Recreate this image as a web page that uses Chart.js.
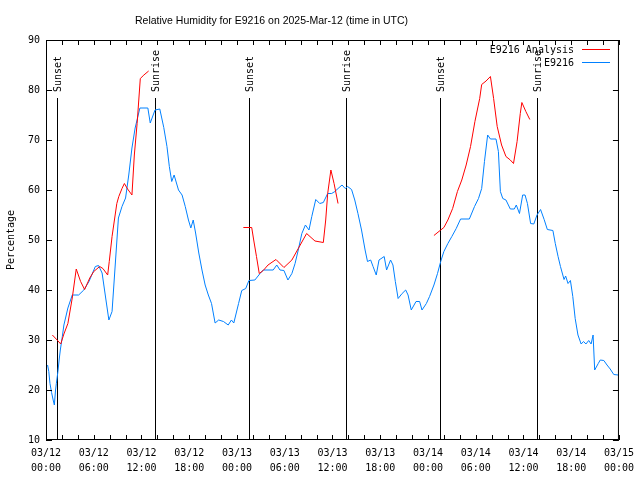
<!DOCTYPE html>
<html>
<head>
<meta charset="utf-8">
<title>Relative Humidity for E9216</title>
<script src="https://cdn.jsdelivr.net/npm/chart.js@4.4.1/dist/chart.umd.min.js"></script>
<style>
  html, body { margin: 0; padding: 0; background: #fff; }
  canvas { display: block; }
</style>
</head>
<body>
<canvas id="rh-chart" width="640" height="480"></canvas>
<script>
'use strict';

// ******* DATA *********
// hours since 2025-03-12 00:00 UTC
let stationHours = [0.2, 0.35, 0.5, 0.7, 0.9, 1.05, 1.2, 1.3, 1.5, 1.65, 1.8, 2.05, 2.25, 2.75, 3.3, 4.1, 4.75, 5.4, 6.2, 6.6,
  7.05, 7.5, 7.9, 8.3, 8.7, 9.1, 9.55, 10.0, 10.4, 10.8, 11.2, 11.8, 12.8, 13.1, 13.7, 14.3, 14.8, 15.2, 15.5, 15.8,
  16.1, 16.65, 17.1, 17.5, 17.9, 18.2, 18.5, 18.8, 19.2, 19.6, 20.0, 20.4, 20.8, 21.25, 21.7, 22.3, 22.9, 23.3, 23.6, 24.2,
  24.6, 25.1, 25.5, 26.25, 26.9, 27.3, 28.55, 29.0, 29.4, 29.9, 30.4, 30.9, 31.3, 31.7, 32.15, 32.6, 33.05, 33.4, 33.9, 34.4,
  34.85, 35.4, 35.9, 36.3, 36.7, 37.2, 37.6, 37.9, 38.4, 38.8, 39.2, 39.65, 40.1, 40.4, 40.8, 41.1, 41.5, 41.85, 42.5, 42.8,
  43.3, 43.6, 43.9, 44.25, 44.75, 45.2, 45.5, 45.9, 46.5, 46.95, 47.25, 47.8, 48.2, 48.75, 49.2, 49.6, 50.0, 50.5, 51.0, 51.55,
  52.1, 53.2, 53.85, 54.35, 54.75, 55.1, 55.5, 55.85, 56.55, 56.85, 57.1, 57.4, 57.8, 58.35, 58.85, 59.1, 59.5, 59.9, 60.2, 60.5,
  60.9, 61.3, 61.7, 62.15, 62.6, 63.0, 63.7, 64.0, 64.35, 64.65, 65.1, 65.3, 65.6, 65.9, 66.2, 66.5, 66.85, 67.25, 67.55, 67.85,
  68.2, 68.5, 68.75, 68.95, 69.4, 69.65, 70.1, 70.5, 70.9, 71.35, 71.9];
let stationValues = [25, 23.7, 21.3, 19.5, 18, 17, 20, 21.3, 23.7, 26, 28, 30.7, 33, 36.4, 39, 39, 40, 41.7, 44.7, 44.9,
  43.4, 38.4, 34, 35.7, 45, 54.4, 56.7, 58.4, 63, 68.4, 72.4, 76.4, 76.4, 73.4, 76, 76.2, 72.5, 68.7, 64.7, 61.7,
  63, 60, 59, 56.7, 54, 52.4, 54, 51.4, 47.4, 44, 41, 39, 37.3, 33.4, 34, 33.7, 33, 34, 33.4, 37.3,
  39.9, 40.3, 41.9, 42, 43.3, 44, 44, 45, 44, 43.9, 42, 43.3, 45.3, 48, 51.3, 53, 52, 54.7, 58.1, 57.3,
  57.5, 59.3, 59.3, 59.7, 60.3, 61, 60.3, 60.7, 60.1, 58, 55.3, 52, 48, 45.7, 46, 44.7, 43, 46, 46.7, 44,
  46, 45, 41.7, 38.3, 39.3, 40, 39, 36, 37.7, 37.7, 36, 37.3, 38.7, 41, 43.3, 45.7, 47.7, 49.3, 50.7, 52.3,
  54.2, 54.2, 56.7, 58.3, 60.3, 65.7, 71, 70.2, 70.2, 67.7, 59.7, 58.3, 58, 56.2, 56.2, 57, 55.3, 59, 59, 57.3,
  53.3, 53.2, 55, 56.1, 54.1, 52.1, 51.9, 49.3, 46.7, 44.7, 42.1, 42.8, 41.3, 41.9, 38.7, 34.3, 31, 29.2, 29.7, 29.2,
  29.9, 29.2, 31, 24, 25.3, 26, 25.9, 25, 24.2, 23.1, 23];

// analysis has gaps (null) between the runs
let analysisHours = [0.8, 1.4, 1.85, 2.25, 2.75, 3.3, 3.8, 4.35, 4.85, 5.5, 6.0, 6.75, 7.15, 7.75, 7.95, 8.3, 8.6, 8.9, 9.15, 9.55,
  9.85, 10.25, 10.8, 11.1, 11.45, 11.85, 12.3, 12.9, 18,
  24.8, 25.85, 26.1, 26.45, 26.8, 27.3, 27.9, 28.9, 29.9, 30.9, 31.7, 32.75, 33.8, 34.85, 35.15, 35.4, 35.8, 36.2, 36.7, 42,
  48.75, 49.6, 50.0, 50.5, 51.1, 51.7, 52.25, 52.8, 53.35, 53.9, 54.5, 54.75, 55.3, 55.85, 56.25, 56.7, 57.25, 57.8, 58.35, 58.75,
  59.2, 59.6, 59.8, 60.3, 60.8];
let analysisValues = [31, 30, 29.2, 31.2, 33.3, 38.4, 44.2, 41.7, 40.1, 42.4, 43.7, 44.7, 44.3, 43, 45.7, 50.7, 54, 57.3, 58.7, 60.3,
  61.3, 60.2, 59, 67, 73.3, 82.3, 83, 83.8, null,
  52.5, 52.5, 50, 46.7, 43.3, 43.9, 45, 46.1, 44.5, 46, 48.3, 51.3, 49.8, 49.5, 54, 59.3, 64, 61.3, 57.3, null,
  50.9, 52, 52.5, 54, 56.3, 59.7, 62, 65, 68.7, 73.7, 78.3, 81.1, 81.8, 82.7, 78.3, 72.7, 69, 66.7, 66, 65.3,
  69.7, 75.3, 77.5, 75.7, 74.1];

let eventHours = [1.4, 13.7, 25.45, 37.7, 49.5, 61.65];
let eventLabels = ['Sunset', 'Sunrise', 'Sunset', 'Sunrise', 'Sunset', 'Sunrise'];

let xTickHours = [0, 6, 12, 18, 24, 30, 36, 42, 48, 54, 60, 66, 72];
let xTickLabels = [
  ['03/12', '00:00'], ['03/12', '06:00'], ['03/12', '12:00'], ['03/12', '18:00'],
  ['03/13', '00:00'], ['03/13', '06:00'], ['03/13', '12:00'], ['03/13', '18:00'],
  ['03/14', '00:00'], ['03/14', '06:00'], ['03/14', '12:00'], ['03/14', '18:00'],
  ['03/15', '00:00']
];

let chartTitle = 'Relative Humidity for E9216 on 2025-Mar-12 (time in UTC)';
let yTitle = 'Percentage';

// ******* HELPERS *********
const MONO = '"DejaVu Sans Mono", "Liberation Mono", monospace';

function toPoints(hours, values) {
  let pts = [];
  for (let i = 0; i < hours.length; i++) {
    pts.push({ x: hours[i], y: values[i] });
  }
  return pts;
}

// gnuplot style frame, inward ticks, day/night markers, legend, titles
let gnuplotDecor = {
  id: 'gnuplotDecor',
  beforeDatasetsDraw(chart) {
    let ctx = chart.ctx;
    let area = chart.chartArea;
    let xs = chart.scales.x;
    ctx.save();
    ctx.strokeStyle = '#000';
    ctx.lineWidth = 1;
    ctx.fillStyle = '#000';
    ctx.font = '10px ' + MONO;
    for (let i = 0; i < eventHours.length; i++) {
      let px = Math.round(xs.getPixelForValue(eventHours[i])) + 0.5;
      ctx.beginPath();
      ctx.moveTo(px, 98);
      ctx.lineTo(px, area.bottom);
      ctx.stroke();

      ctx.save();
      ctx.translate(px + 1, 92);
      ctx.rotate(-Math.PI / 2);
      ctx.textAlign = 'left';
      ctx.textBaseline = 'middle';
      ctx.fillText(eventLabels[i], 0, 0);
      ctx.restore();
    }
    ctx.restore();
  },
  afterDraw(chart) {
    let ctx = chart.ctx;
    let area = chart.chartArea;
    let xs = chart.scales.x;
    let ys = chart.scales.y;
    ctx.save();
    ctx.strokeStyle = '#000';
    ctx.lineWidth = 1;

    // frame
    ctx.strokeRect(area.left + 0.5, area.top + 0.5, area.right - area.left - 1, area.bottom - area.top - 1);

    // x ticks every 2 h, bottom and top, pointing in
    ctx.beginPath();
    for (let h = 0; h <= 72; h += 2) {
      let px = Math.round(xs.getPixelForValue(h)) + 0.5;
      ctx.moveTo(px, area.bottom);
      ctx.lineTo(px, area.bottom - 5);
      ctx.moveTo(px, area.top);
      ctx.lineTo(px, area.top + 5);
    }
    // y ticks, left and right
    for (let v = 10; v <= 90; v += 10) {
      let py = Math.round(ys.getPixelForValue(v)) + 0.5;
      ctx.moveTo(area.left, py);
      ctx.lineTo(area.left + 6, py);
      ctx.moveTo(area.right, py);
      ctx.lineTo(area.right - 6, py);
    }
    ctx.stroke();

    // legend
    ctx.font = '10px ' + MONO;
    ctx.textAlign = 'right';
    ctx.textBaseline = 'middle';
    chart.data.datasets.forEach((ds, i) => {
      let ly = 49.5 + i * 13;
      ctx.fillStyle = '#000';
      ctx.fillText(ds.label, 574, ly + 1);
      ctx.strokeStyle = ds.borderColor;
      ctx.beginPath();
      ctx.moveTo(582, ly);
      ctx.lineTo(610, ly);
      ctx.stroke();
    });

    // titles
    ctx.fillStyle = '#000';
    ctx.font = '10.5px "Liberation Sans", Arial, sans-serif';
    ctx.textAlign = 'left';
    ctx.textBaseline = 'alphabetic';
    ctx.fillText(chartTitle, 135, 24);

    ctx.font = '10px ' + MONO;
    ctx.translate(11, 240);
    ctx.rotate(-Math.PI / 2);
    ctx.textAlign = 'center';
    ctx.textBaseline = 'middle';
    ctx.fillText(yTitle, 0, 0);
    ctx.restore();
  }
};

// ******* CHART *********
let ctx = document.getElementById('rh-chart');

let chartObj = {
  type: 'line',
  data: {
    datasets: [{
      label: 'E9216 Analysis',
      data: toPoints(analysisHours, analysisValues),
      borderColor: '#ff0000',
      borderWidth: 1,
      pointRadius: 0,
      spanGaps: false,
      tension: 0
    },
    {
      label: 'E9216',
      data: toPoints(stationHours, stationValues),
      borderColor: '#0080ff',
      borderWidth: 1,
      pointRadius: 0,
      tension: 0
    }]
  },
  options: {
    responsive: false,
    animation: false,
    devicePixelRatio: 1,
    layout: {
      padding: { top: 40, right: 19, left: 0, bottom: 0 }
    },
    plugins: {
      legend: { display: false },
      tooltip: { enabled: false },
      title: { display: false }
    },
    scales: {
      x: {
        type: 'linear',
        min: 0,
        max: 72,
        afterFit(scale) { scale.height = 40; },
        afterBuildTicks(scale) {
          scale.ticks = xTickHours.map(v => ({ value: v }));
        },
        grid: { display: false, drawTicks: false },
        border: { display: false },
        ticks: {
          autoSkip: false,
          maxRotation: 0,
          padding: 6,
          color: '#000',
          font: { family: MONO, size: 10, lineHeight: 1.5 },
          callback: function (value) {
            let idx = xTickHours.indexOf(value);
            return idx >= 0 ? xTickLabels[idx] : '';
          }
        }
      },
      y: {
        min: 10,
        max: 90,
        afterFit(scale) { scale.width = 46; },
        grid: { display: false, drawTicks: false },
        border: { display: false },
        ticks: {
          stepSize: 10,
          padding: 6,
          color: '#000',
          font: { family: MONO, size: 10 }
        }
      }
    }
  },
  plugins: [gnuplotDecor]
};

new Chart(ctx, chartObj); //eslint-disable-line
</script>
</body>
</html>
